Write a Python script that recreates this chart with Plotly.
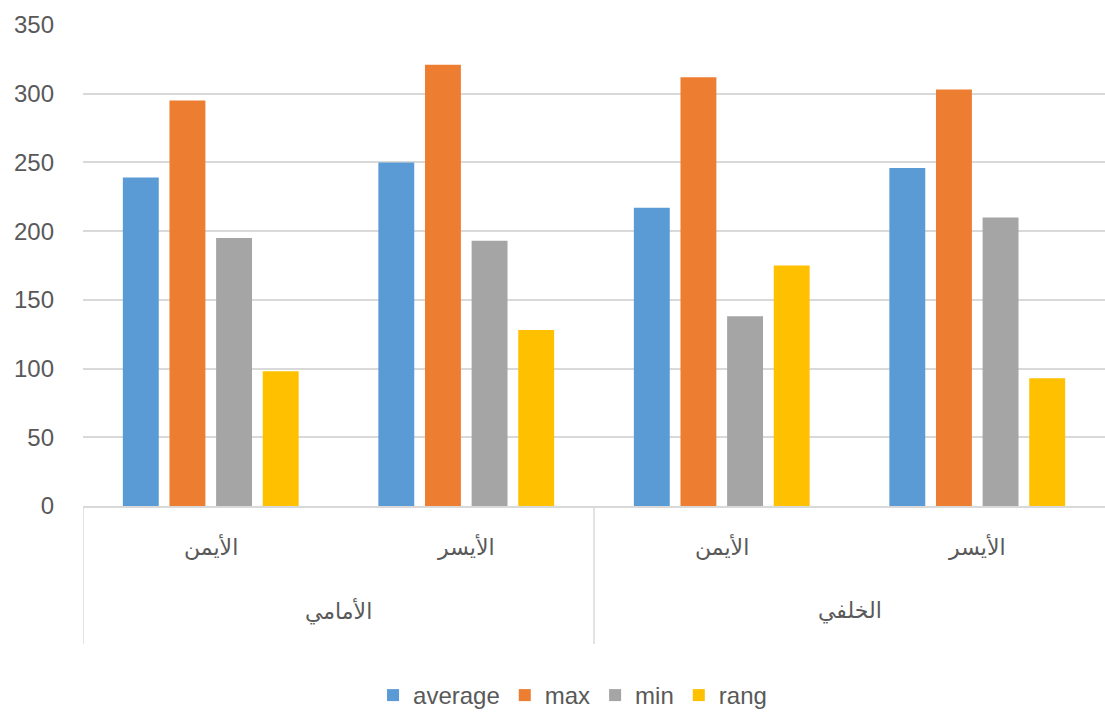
import plotly.graph_objects as go

outer = ["الأمامي", "الأمامي", "الخلفي", "الخلفي"]
inner = ["الأيمن", "الأيسر", "الأيمن", "الأيسر"]

series_names = ["average", "max", "min", "rang"]
average = [239, 250, 217, 246]
maxv = [295, 321, 312, 303]
minv = [195, 193, 138, 210]
rang = [98, 128, 175, 93]
colors = ["#5B9BD5", "#ED7D31", "#A5A5A5", "#FFC000"]

y_ticks = [0, 50, 100, 150, 200, 250, 300, 350]

cats = [o + " / " + i for o, i in zip(outer, inner)]

fig = go.Figure()
for name, vals, col in zip(series_names, [average, maxv, minv, rang], colors):
    fig.add_trace(go.Bar(x=cats, y=vals, name=name,
                         marker=dict(color=col, line=dict(width=0))))

font_family = "Liberation Sans, DejaVu Sans, sans-serif"
text_color = "#595959"
line_color = "#D9D9D9"

# inner category labels
for i, lab in enumerate(inner):
    fig.add_annotation(x=i, y=-0.085, xref="x", yref="paper", text=lab, showarrow=False,
                       font=dict(size=22, color=text_color, family="DejaVu Sans"),
                       xanchor="center", yanchor="middle")

# outer group labels and dividers
groups = []
for i, o in enumerate(outer):
    if not groups or groups[-1][0] != o:
        groups.append([o, i, i])
    else:
        groups[-1][2] = i
for o, s, e in groups:
    fig.add_annotation(x=(s + e) / 2, y=-0.219, xref="x", yref="paper", text=o,
                       showarrow=False, font=dict(size=22, color=text_color, family="DejaVu Sans"),
                       xanchor="center", yanchor="middle")
    fig.add_shape(type="line", xref="x", yref="paper", x0=s - 0.5, x1=s - 0.5, y0=0, y1=-0.287,
                  line=dict(color=line_color, width=1.5))

fig.update_layout(
    width=1105, height=718,
    margin=dict(l=83, r=0, t=25, b=209),
    paper_bgcolor="white", plot_bgcolor="white",
    barmode="group", bargap=0.27, bargroupgap=0.23,
    font=dict(family=font_family, size=22, color=text_color),
    showlegend=True,
    legend=dict(orientation="h", x=0.479, xanchor="center", y=-0.395, yanchor="middle",
                font=dict(size=24, color=text_color), traceorder="normal"),
    xaxis=dict(type="category", showline=True, linecolor=line_color, linewidth=1.5,
               showticklabels=False, ticks="", showgrid=False, range=[-0.5, 3.5]),
    yaxis=dict(range=[0, 350], tickvals=y_ticks, showgrid=True, gridcolor=line_color,
               gridwidth=1.5, zeroline=False, showline=False, ticks="",
               tickfont=dict(size=24, color=text_color), ticklabelstandoff=28),
)
fig.write_html("out.html")
